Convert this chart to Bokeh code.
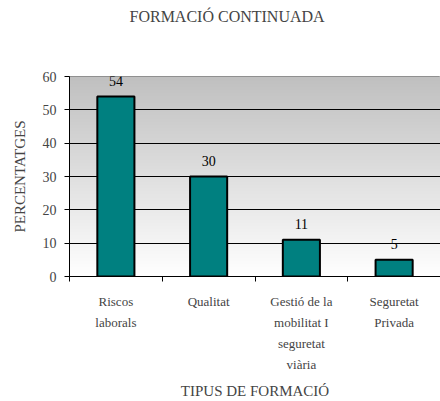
import numpy as np
from bokeh.plotting import figure
from bokeh.models import Range1d, FixedTicker, ColumnDataSource, LabelSet, Title
from bokeh.embed import file_html
from bokeh.resources import INLINE

title_text = "FORMACIÓ CONTINUADA"
categories = ["Riscos\nlaborals", "Qualitat", "Gestió de la\nmobilitat I\nseguretat\nviària", "Seguretat\nPrivada"]
values = [54, 30, 11, 5]
y_ticks = [0, 10, 20, 30, 40, 50, 60]
y_max = 60

FONT = "Liberation Serif"
n = len(categories)
xs = list(range(1, n + 1))

p = figure(width=440, height=401, x_range=Range1d(0.5, n + 0.5), y_range=Range1d(0, y_max),
           output_backend="svg", toolbar_location=None,
           min_border_left=69, min_border_right=0, min_border_top=76, min_border_bottom=125)

# gradient background (white at bottom -> gray at top)
rows = 200
g = np.linspace(255, 192, rows).astype(np.uint32)
img = np.empty((rows, 1), dtype=np.uint32)
view = img.view(dtype=np.uint8).reshape((rows, 1, 4))
view[:, :, 0] = g[:, None]
view[:, :, 1] = g[:, None]
view[:, :, 2] = g[:, None]
view[:, :, 3] = 255
p.image_rgba(image=[img], x=0.5, y=0, dw=n, dh=y_max, level="image")

p.background_fill_color = "white"
p.border_fill_color = "white"
p.outline_line_color = "#808080"
p.outline_line_width = 1

src = ColumnDataSource(dict(x=xs, top=values, lbl=[str(v) for v in values]))
p.vbar(x="x", top="top", bottom=0, width=0.4, source=src,
       fill_color="#008080", line_color="black", line_width=2)

labels = LabelSet(x="x", y="top", text="lbl", source=src, text_align="center",
                  text_baseline="bottom", y_offset=11, text_font=FONT,
                  text_font_size="14px", text_color="black")
p.add_layout(labels)

# blank spacer between frame and title
spacer = Title(text=" ", text_font=FONT, text_font_size="13px", standoff=29)
p.add_layout(spacer, "above")

# title
title = Title(text=title_text, align="left", vertical_align="top", text_font=FONT,
              text_font_size="16px", text_font_style="normal", standoff=8, offset=60)
p.add_layout(title, "above")

# grid
p.xgrid.grid_line_color = None
p.ygrid.ticker = FixedTicker(ticks=y_ticks[1:-1])
p.ygrid.grid_line_color = "black"
p.ygrid.grid_line_width = 1

# y axis
yax = p.yaxis[0]
yax.ticker = FixedTicker(ticks=y_ticks)
yax.axis_label = "PERCENTATGES"
yax.axis_label_text_font = FONT
yax.axis_label_text_font_size = "15px"
yax.axis_label_text_font_style = "normal"
yax.axis_label_standoff = 12
yax.major_label_text_font = FONT
yax.major_label_text_font_size = "14px"
yax.major_tick_out = 5
yax.major_tick_in = 0
yax.minor_tick_line_color = None
yax.major_label_standoff = 8
yax.axis_line_color = "black"

# x axis (bottom)
xax = p.below[0]
xax.ticker = FixedTicker(ticks=xs, minor_ticks=[x - 0.5 for x in xs] + [n + 0.5])
xax.major_label_overrides = {x: c for x, c in zip(xs, categories)}
xax.major_tick_out = 0
xax.major_tick_in = 0
xax.minor_tick_out = 5
xax.minor_tick_in = 0
xax.major_label_text_font = FONT
xax.major_label_text_font_size = "13px"
xax.major_label_text_line_height = 1.4
xax.major_label_standoff = 12
xax.axis_label = "TIPUS DE FORMACIÓ"
xax.axis_label_text_font = FONT
xax.axis_label_text_font_size = "15px"
xax.axis_label_text_font_style = "normal"
xax.axis_label_standoff = 8
xax.axis_line_color = "black"

open("out.html", "w").write(file_html(p, INLINE))
